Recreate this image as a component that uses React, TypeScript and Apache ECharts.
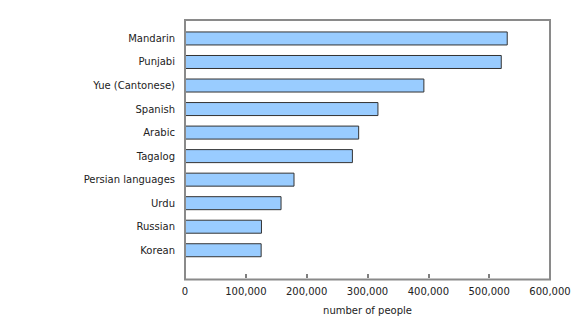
import React, { useEffect, useRef } from "react";
import * as echarts from "echarts";

const categories = [
  "Mandarin",
  "Punjabi",
  "Yue (Cantonese)",
  "Spanish",
  "Arabic",
  "Tagalog",
  "Persian languages",
  "Urdu",
  "Russian",
  "Korean",
];
const values = [530500, 520700, 393500, 318000, 286300, 276000, 180000, 158700, 126500, 126000];
const xTicks = [0, 100000, 200000, 300000, 400000, 500000, 600000];
const axisTitle = "number of people";

const FONT = "DejaVu Sans, Verdana, sans-serif";

export default function App() {
  const ref = useRef<HTMLDivElement>(null);
  useEffect(() => {
    if (!ref.current) return;
    const chart = echarts.init(ref.current, null, { renderer: "svg" });
    const gridLeft = 185;
    const gridRight = 30;
    const frameTop = 20;
    const frameBottom = 279.5;
    chart.setOption({
      animation: false,
      backgroundColor: "#ffffff",
      grid: { left: gridLeft, right: gridRight, top: 26.7, bottom: 320 - 263.5, containLabel: false },
      xAxis: {
        type: "value",
        min: xTicks[0],
        max: xTicks[xTicks.length - 1],
        interval: 100000,
        offset: 16,
        name: axisTitle,
        nameLocation: "middle",
        nameGap: 27,
        nameTextStyle: { fontFamily: FONT, fontSize: 10, color: "#222" },
        axisLine: { show: false },
        axisTick: { show: true, inside: true, length: 4, lineStyle: { color: "#555", width: 1.5 } },
        axisLabel: {
          fontFamily: FONT,
          fontSize: 10,
          color: "#222",
          margin: 8,
          formatter: (v: number) => v.toLocaleString("en-US"),
        },
        splitLine: { show: false },
      },
      yAxis: {
        type: "category",
        inverse: true,
        data: categories,
        axisLine: { show: false },
        axisTick: { show: false },
        axisLabel: { fontFamily: FONT, fontSize: 10, color: "#222", margin: 10 },
      },
      series: [
        {
          type: "bar",
          data: values,
          barWidth: 14,
          itemStyle: { color: "#99ccff", borderColor: "#333333", borderWidth: 1 },
        },
      ],
      graphic: [
        {
          type: "rect",
          z: 10,
          silent: true,
          shape: { x: gridLeft, y: frameTop, width: 580 - gridRight - gridLeft, height: frameBottom - frameTop },
          style: { fill: "none", stroke: "#8a8a8a", lineWidth: 2 },
        },
      ],
    });
    return () => chart.dispose();
  }, []);
  return (
    <div
      ref={ref}
      style={{ position: "fixed", left: 0, top: 0, width: 580, height: 320 }}
    />
  );
}
